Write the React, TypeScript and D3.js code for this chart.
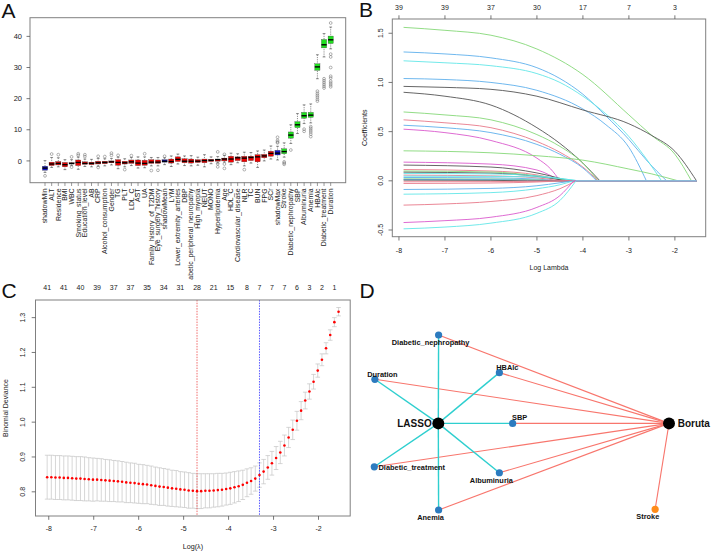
import React from 'react';
import * as d3 from 'd3';

const FONT = 'Liberation Sans, Arial, Helvetica, sans-serif';

// ---------------- Panel A: Boruta importance boxplots ----------------
const borutaNames = ['shadowMin','ALT','Residence','BMI','WBC','Smoking_status','Education_level','AB','CRP','Alcohol_consumption','Gender','TG','PLT','LDL_C','AST','UA','Family_history_of_T2DM','Eye_surgery_history','shadowMean','LYM','Lower_extremity_arteries','DBP','Diabetic_peripheral_neuropathy','High_myopia','NEUT','MONO','Hyperlipidemia','Age','HDL_C','Cardiovascular_disease','NLR','TC','BUN','FPG','SCr','shadowMax','Stroke','Diabetic_nephropathy','SBP','Albuminuria','Anemia','HBAlc','Diabetic_treatment','Duration'];
const borutaDecision = ['S','R','R','R','R','R','R','R','R','R','R','R','R','R','R','R','R','R','S','R','R','R','R','R','R','R','R','R','R','R','R','R','R','R','R','S','C','C','C','C','C','C','C','C'];
const borutaLow = [-3.7,-2.1,-1.9,-2.8,-1.5,-2.7,-1.8,-1.9,-1.7,-1.6,-1.3,-2.5,-1.9,-1.5,-2.3,-2.2,-1.6,-1.6,-1.2,-1.8,-1.0,-1.5,-1.6,-1.4,-1.9,-0.9,-0.7,-0.4,-1.2,-0.6,-1.6,-0.7,-2.1,0.0,0.6,0.3,1.2,5.6,8.8,12.0,12.2,26.4,33.4,36.0];
const borutaQ1 = [-3.0,-1.5,-1.3,-1.9,-1.0,-1.5,-1.1,-1.2,-1.0,-0.9,-0.6,-1.4,-1.0,-0.8,-1.5,-1.4,-0.8,-0.8,-0.4,-0.7,-0.2,-0.6,-0.7,-0.5,-0.6,-0.2,-0.1,0.0,-0.4,0.1,-0.3,0.1,-0.3,1.0,1.5,1.9,2.3,7.3,10.7,13.7,14.0,29.1,36.3,37.7];
const borutaMedian = [-2.3,-1.0,-0.8,-1.2,-0.8,-0.5,-0.8,-0.8,-0.6,-0.5,-0.3,-0.5,-0.6,-0.3,-0.7,-0.8,-0.4,-0.4,-0.1,-0.2,0.5,-0.1,-0.1,-0.1,0.1,0.2,0.4,0.6,0.6,1.0,0.9,1.1,1.3,1.6,2.4,2.5,3.0,8.3,11.6,14.5,14.7,30.2,37.3,38.9];
const borutaQ3 = [-1.7,-0.4,-0.2,-0.5,-0.6,0.3,-0.3,-0.4,-0.1,-0.1,0.0,0.4,-0.1,0.3,0.3,0.2,0.4,0.3,0.4,0.6,1.3,0.7,0.6,0.4,0.6,0.5,0.6,0.9,1.5,1.3,1.5,1.5,2.0,2.1,3.1,3.4,3.9,9.3,12.6,15.6,15.6,31.2,39.0,40.1];
const borutaHigh = [0.1,1.1,1.0,0.4,0.4,1.2,0.6,0.5,0.8,0.7,0.8,1.2,0.7,1.1,1.3,1.3,1.1,1.1,1.0,1.6,2.2,1.6,1.7,1.2,2.0,1.3,1.4,1.8,2.5,2.3,2.8,2.7,3.2,3.5,4.8,4.7,5.8,11.6,15.2,18.0,18.3,34.1,40.9,43.0];
const borutaOutliers = [
  [-4.8],[2.2],[2.0],[],[1.3,-2.0],[1.8,2.3],[1.4,2.0],[],[1.5,-2.1],[1.4],
  [1.8,2.5],[1.8],[-2.8],[1.7],[],[2.3],[-3.1],[-3.0],[1.5],[],
  [],[],[],[],[],[],[2.9,-0.9,-1.9],[2.1,-1.0,-2.4],[],[],
  [-2.8],[],[],[],[],[5.8,6.1,6.6,7.6],[-0.3,-0.7,-1.1],[3.5],[],[9.5,10.2],
  [7.8,8.6,9.3,9.9,10.5,11.0],[19.2,19.8,20.5,21.1,21.7,22.4],[23.4,24.0,24.6,25.2,25.8,26.4],[44.3,23.8,24.4,25.0,25.6,26.6,27.2,30.0,33.4,34.3]
];
const borutaYTicks = [0, 10, 20, 30, 40];

// ---------------- Panel B: LASSO coefficient paths ----------------
const lassoPathColors = [2,3,4,3,0,0,2,1,3,5,2,5,0,1,2,0,4,1,4,3,2,3,0,1,1,3,4,1,5,4];
const lassoPaths: [number, number][][] = [
  [[-7.9,1.56],[-7,1.53],[-6,1.48],[-5,1.34],[-4,1.08],[-3,0.67],[-2.5,0.46],[-2,0.27],[-1.64,0]],
  [[-7.9,1.31],[-7,1.29],[-6,1.25],[-5,1.15],[-4.5,1.04],[-4,0.88],[-3.5,0.66],[-3,0.42],[-2.6,0.2],[-2.18,0]],
  [[-7.9,1.22],[-7,1.2],[-6,1.17],[-5,1.09],[-4.5,1.0],[-4,0.86],[-3.5,0.68],[-3,0.45],[-2.6,0.21],[-2.29,0]],
  [[-7.9,1.04],[-7,1.03],[-6,1.0],[-5,0.92],[-4,0.73],[-3.5,0.57],[-3,0.34],[-2.62,0]],
  [[-7.9,0.96],[-7,0.95],[-6,0.93],[-5,0.86],[-4,0.72],[-3,0.58],[-2.5,0.46],[-2,0.3],[-1.53,0]],
  [[-7.9,0.9],[-7,0.86],[-6,0.77],[-5,0.54],[-4.5,0.38],[-4,0.18],[-3.63,0]],
  [[-7.9,0.7],[-7,0.67],[-6,0.62],[-5,0.47],[-4.5,0.35],[-4,0.18],[-3.67,0]],
  [[-7.9,0.62],[-7,0.59],[-6,0.54],[-5,0.4],[-4.5,0.29],[-4,0.14],[-3.67,0]],
  [[-7.9,0.565],[-7,0.54],[-6,0.49],[-5,0.37],[-4.5,0.27],[-4,0.13],[-3.7,0]],
  [[-7.9,0.525],[-7,0.49],[-6,0.41],[-5,0.23],[-4.7,0.12],[-4.5,0]],
  [[-7.9,0.305],[-6,0.285],[-5,0.255],[-4,0.21],[-3,0.12],[-2.5,0.07],[-1.93,0]],
  [[-7.9,0.19],[-6,0.17],[-5,0.11],[-4.5,0]],
  [[-7.9,0.16],[-6,0.14],[-5,0.08],[-4.3,0]],
  [[-7.9,0.115],[-6,0.1],[-5,0.06],[-4.4,0]],
  [[-7.9,0.1],[-6,0.09],[-5,0.05],[-4.3,0]],
  [[-7.9,0.088],[-6,0.078],[-5,0.045],[-4.35,0]],
  [[-7.9,0.075],[-6,0.07],[-5,0.05],[-4.1,0]],
  [[-7.9,0.058],[-6,0.05],[-5,0.03],[-4.5,0]],
  [[-7.9,0.047],[-6,0.045],[-5,0.04],[-4.1,0]],
  [[-7.9,0.034],[-6,0.03],[-5,0.018],[-4.6,0]],
  [[-7.9,0.02],[-6,0.018],[-5,0.01],[-4.7,0]],
  [[-7.9,0.014],[-6,0.012],[-5,0.006],[-4.8,0]],
  [[-7.9,0.007],[-6,0.005],[-5.2,0]],
  [[-7.9,-0.01],[-6,-0.008],[-5,-0.004],[-4.6,0]],
  [[-7.9,-0.027],[-6,-0.022],[-5,-0.012],[-4.4,0]],
  [[-7.9,-0.088],[-6,-0.077],[-5,-0.05],[-4.5,-0.02],[-4.2,0]],
  [[-7.9,-0.136],[-6,-0.12],[-5,-0.08],[-4.5,-0.04],[-4.2,0]],
  [[-7.9,-0.247],[-7,-0.235],[-6,-0.21],[-5,-0.15],[-4.5,-0.08],[-4.15,0]],
  [[-7.9,-0.424],[-7,-0.405],[-6,-0.37],[-5,-0.27],[-4.5,-0.15],[-4.2,0]],
  [[-7.9,-0.488],[-7,-0.47],[-6,-0.43],[-5,-0.33],[-4.5,-0.2],[-4.15,0]]
];
const lassoLambdaEnd = -1.53;
const lassoXTicks = [-8, -7, -6, -5, -4, -3, -2];
const lassoTopCounts = [39, 39, 37, 30, 17, 7, 3];
const lassoYTicks = [-0.5, 0, 0.5, 1.0, 1.5];
const rPalette = ['#555555', '#E8798A', '#86D878', '#5FB0EC', '#62E6E8', '#DA5ACD'];

// ---------------- Panel C: cross-validation curve ----------------
const cvLogLambda = [-8.036,-7.943,-7.851,-7.758,-7.666,-7.573,-7.480,-7.388,-7.295,-7.203,-7.110,-7.017,-6.925,-6.832,-6.740,-6.647,-6.554,-6.462,-6.369,-6.277,-6.184,-6.091,-5.999,-5.906,-5.814,-5.721,-5.628,-5.536,-5.443,-5.351,-5.258,-5.165,-5.073,-4.980,-4.888,-4.795,-4.702,-4.610,-4.517,-4.425,-4.332,-4.239,-4.147,-4.054,-3.962,-3.869,-3.776,-3.684,-3.591,-3.499,-3.406,-3.313,-3.221,-3.128,-3.036,-2.943,-2.850,-2.758,-2.665,-2.573,-2.480,-2.387,-2.295,-2.202,-2.110,-2.017,-1.924,-1.832,-1.739,-1.647,-1.554];
const cvMean = [0.842,0.842,0.841,0.841,0.840,0.840,0.839,0.838,0.838,0.837,0.836,0.835,0.835,0.834,0.833,0.832,0.831,0.830,0.829,0.827,0.826,0.825,0.823,0.822,0.821,0.819,0.817,0.815,0.814,0.812,0.810,0.809,0.807,0.806,0.804,0.803,0.802,0.802,0.803,0.803,0.804,0.805,0.806,0.808,0.810,0.813,0.816,0.820,0.826,0.831,0.838,0.848,0.858,0.870,0.882,0.897,0.913,0.933,0.956,0.978,1.004,1.033,1.062,1.088,1.116,1.148,1.179,1.212,1.250,1.287,1.317];
const cvSE = [0.063,0.063,0.063,0.063,0.063,0.063,0.063,0.063,0.063,0.063,0.062,0.062,0.061,0.061,0.060,0.060,0.059,0.059,0.058,0.058,0.057,0.057,0.056,0.056,0.055,0.055,0.054,0.054,0.053,0.053,0.052,0.052,0.051,0.051,0.051,0.050,0.050,0.050,0.049,0.049,0.048,0.048,0.047,0.046,0.046,0.045,0.044,0.042,0.040,0.038,0.036,0.035,0.035,0.034,0.034,0.033,0.032,0.030,0.029,0.028,0.027,0.026,0.024,0.022,0.021,0.019,0.017,0.016,0.015,0.013,0.012];
const cvCountLambda = [-8.036,-7.666,-7.295,-6.925,-6.554,-6.184,-5.814,-5.443,-5.073,-4.702,-4.332,-3.962,-3.591,-3.313,-3.036,-2.758,-2.480,-2.202,-1.924,-1.647];
const cvCountLabels = [41,41,40,39,37,37,35,34,31,28,21,15,8,7,7,7,6,3,2,1];
const cvLambdaMin = -4.702;
const cvLambda1se = -3.313;
const cvXTicks = [-8, -7, -6, -5, -4, -3, -2];
const cvYTicks = [0.8, 0.9, 1.0, 1.1, 1.2, 1.3];

// ---------------- Panel D: network of selected features ----------------
const netNodes = ['LASSO','Boruta','Diabetic_nephropathy','HBAlc','Duration','SBP','Diabetic_treatment','Albuminuria','Anemia','Stroke'];
const netNodeX = [21.8, 100, 21.9, 42.5, 0.3, 47.0, 0.1, 42.5, 21.9, 95.3];
const netNodeY = [50.5, 50.5, 0, 21.5, 25.3, 50.5, 75.3, 78.7, 100, 99.6];
const netNodeKind = ['method','method','both','both','both','both','both','both','both','boruta'];
const netEdgesLasso = ['Diabetic_nephropathy','HBAlc','Duration','SBP','Diabetic_treatment','Albuminuria','Anemia'];
const netEdgesBoruta = ['Diabetic_nephropathy','HBAlc','Duration','SBP','Diabetic_treatment','Albuminuria','Anemia','Stroke'];
const netLabelDx = [-6.6, 8.7, -8, 8, 7.5, 7, 37.5, -8, -8, -7.3];
const netLabelDy = [3.7, 3.7, 9.5, -2.7, -2.3, -3, 3.6, 10, 10.3, 10];

export default function App() {
  // ---- A scales
  const ax = d3.scaleLinear().domain([-1.26, 46.26]).range([30, 345.7]);
  const ay = d3.scaleLinear().domain([-7, 46]).range([182.7, 17.7]);
  const boxColor = (d: string) => (d === 'S' ? '#1414c8' : d === 'C' ? '#1fe01f' : '#f00000');
  const bw = 5.2;

  // ---- B scales
  const bx = d3.scaleLinear().domain([-8.145, -1.33]).range([392.3, 705.7]);
  const by = d3.scaleLinear().domain([-0.568, 1.645]).range([236.7, 19]);
  const bLine = d3.line<[number, number]>().x(d => bx(d[0])).y(d => by(d[1])).curve(d3.curveMonotoneX);

  // ---- C scales
  const cx = d3.scaleLinear().domain([-8.295, -1.295]).range([35.5, 350.2]);
  const cy = d3.scaleLinear().domain([0.7306, 1.3506]).range([516, 300]);

  // ---- D scales
  const dx = d3.scaleLinear().domain([0, 100]).range([374, 669]);
  const dy = d3.scaleLinear().domain([0, 100]).range([335, 510]);
  const nodeIdx = (n: string) => netNodes.indexOf(n);

  return (
    <svg width={711} height={552} style={{ position: 'absolute', left: 0, top: 0, background: '#fff' }} fontFamily={FONT}>
      <defs>
        <clipPath id="clipA"><rect x={0} y={0} width={358} height={280} /></clipPath>
      </defs>
      <rect x={0} y={0} width={711} height={552} fill="#fff" />

      {/* ================= Panel A ================= */}
      <g clipPath="url(#clipA)">
        <rect x={30} y={17.7} width={315.7} height={165} fill="none" stroke="#808080" strokeWidth={1} />
        {borutaYTicks.map(t => (
          <g key={'ayt' + t}>
            <line x1={26.5} x2={30} y1={ay(t)} y2={ay(t)} stroke="#555" strokeWidth={0.8} />
            <text x={22} y={ay(t) + 2.6} fontSize={7.5} textAnchor="end" fill="#222">{t}</text>
          </g>
        ))}
        {borutaNames.map((n, i) => {
          const x = ax(i + 1);
          const col = boxColor(borutaDecision[i]);
          return (
            <g key={'box' + i}>
              <line x1={x} x2={x} y1={ay(borutaHigh[i])} y2={ay(borutaQ3[i])} stroke="#444" strokeWidth={0.6} strokeDasharray="1.2,1" />
              <line x1={x} x2={x} y1={ay(borutaLow[i])} y2={ay(borutaQ1[i])} stroke="#444" strokeWidth={0.6} strokeDasharray="1.2,1" />
              <line x1={x - 1.4} x2={x + 1.4} y1={ay(borutaHigh[i])} y2={ay(borutaHigh[i])} stroke="#444" strokeWidth={0.6} />
              <line x1={x - 1.4} x2={x + 1.4} y1={ay(borutaLow[i])} y2={ay(borutaLow[i])} stroke="#444" strokeWidth={0.6} />
              <rect x={x - bw / 2} y={ay(borutaQ3[i])} width={bw} height={Math.max(0.8, ay(borutaQ1[i]) - ay(borutaQ3[i]))} fill={col} stroke="#333" strokeWidth={0.3} />
              <line x1={x - bw / 2} x2={x + bw / 2} y1={ay(borutaMedian[i])} y2={ay(borutaMedian[i])} stroke="#000" strokeWidth={1.4} />
              {borutaOutliers[i].map((o, j) => (
                <circle key={j} cx={x} cy={ay(o)} r={1.4} fill="none" stroke="#666" strokeWidth={0.5} />
              ))}
              <line x1={x} x2={x} y1={182.7} y2={186} stroke="#555" strokeWidth={0.6} />
              <text transform={`translate(${x + 2.3},188.5) rotate(-90)`} fontSize={6.9} textAnchor="end" fill="#222">{n}</text>
            </g>
          );
        })}
      </g>

      {/* ================= Panel B ================= */}
      <g>
        {lassoPaths.map((p, i) => {
          const last = p[p.length - 1];
          const d = (bLine(p) || '') + `L${bx(lassoLambdaEnd)},${by(0)}`;
          return <path key={'lp' + i} d={d} fill="none" stroke={rPalette[lassoPathColors[i]]} strokeWidth={0.9} data-end={last[0]} />;
        })}
        <rect x={392.3} y={19} width={313.4} height={217.7} fill="none" stroke="#808080" strokeWidth={1} />
        {lassoXTicks.map((t, i) => (
          <g key={'bxt' + t}>
            <line x1={bx(t)} x2={bx(t)} y1={236.7} y2={240.5} stroke="#555" strokeWidth={0.8} />
            <text x={bx(t)} y={252.5} fontSize={7} textAnchor="middle" fill="#222">{t}</text>
            <line x1={bx(t)} x2={bx(t)} y1={19} y2={15.3} stroke="#555" strokeWidth={0.8} />
            <text x={bx(t)} y={10} fontSize={7} textAnchor="middle" fill="#222">{lassoTopCounts[i]}</text>
          </g>
        ))}
        {lassoYTicks.map(t => (
          <g key={'byt' + t}>
            <line x1={388.5} x2={392.3} y1={by(t)} y2={by(t)} stroke="#555" strokeWidth={0.8} />
            <text transform={`translate(382.5,${by(t)}) rotate(-90)`} fontSize={7} textAnchor="middle" fill="#222">{t.toFixed(1)}</text>
          </g>
        ))}
        <text x={(392.3 + 705.7) / 2} y={269.5} fontSize={7} textAnchor="middle" fill="#222">Log Lambda</text>
        <text transform={`translate(366.5,${(19 + 236.7) / 2}) rotate(-90)`} fontSize={7} textAnchor="middle" fill="#222">Coefficients</text>
      </g>

      {/* ================= Panel C ================= */}
      <g>
        {cvLogLambda.map((l, i) => {
          const x = cx(l);
          const up = cy(cvMean[i] + cvSE[i]);
          const lo = cy(cvMean[i] - cvSE[i]);
          return (
            <g key={'cv' + i}>
              <line x1={x} x2={x} y1={up} y2={lo} stroke="#c4c4c4" strokeWidth={0.7} />
              <line x1={x - 2.3} x2={x + 2.3} y1={up} y2={up} stroke="#c4c4c4" strokeWidth={0.7} />
              <line x1={x - 2.3} x2={x + 2.3} y1={lo} y2={lo} stroke="#c4c4c4" strokeWidth={0.7} />
            </g>
          );
        })}
        <line x1={cx(cvLambdaMin)} x2={cx(cvLambdaMin)} y1={300} y2={516} stroke="#ee5a5a" strokeWidth={0.9} strokeDasharray="1.5,1.2" />
        <line x1={cx(cvLambda1se)} x2={cx(cvLambda1se)} y1={300} y2={516} stroke="#5a5aff" strokeWidth={1} strokeDasharray="1.5,1.2" />
        {cvLogLambda.map((l, i) => (
          <circle key={'cvp' + i} cx={cx(l)} cy={cy(cvMean[i])} r={1.3} fill="#ff0000" />
        ))}
        <rect x={35.5} y={300} width={314.7} height={216} fill="none" stroke="#808080" strokeWidth={1} />
        {cvXTicks.map(t => (
          <g key={'cxt' + t}>
            <line x1={cx(t)} x2={cx(t)} y1={516} y2={519.8} stroke="#555" strokeWidth={0.8} />
            <text x={cx(t)} y={530.5} fontSize={7} textAnchor="middle" fill="#222">{t}</text>
          </g>
        ))}
        {cvYTicks.map(t => (
          <g key={'cyt' + t}>
            <line x1={31.7} x2={35.5} y1={cy(t)} y2={cy(t)} stroke="#555" strokeWidth={0.8} />
            <text transform={`translate(24.5,${cy(t)}) rotate(-90)`} fontSize={7} textAnchor="middle" fill="#222">{t.toFixed(1)}</text>
          </g>
        ))}
        {cvCountLambda.map((l, i) => (
          <text key={'cct' + i} x={cx(l)} y={289.5} fontSize={7} textAnchor="middle" fill="#222">{cvCountLabels[i]}</text>
        ))}
        <text x={(35.5 + 350.2) / 2} y={549} fontSize={7.2} textAnchor="middle" fill="#222">Log(λ)</text>
        <text transform={`translate(7.5,408) rotate(-90)`} fontSize={7} textAnchor="middle" fill="#222">Binomial Deviance</text>
      </g>

      {/* ================= Panel D ================= */}
      <g>
        {netEdgesBoruta.map(n => {
          const a = nodeIdx('Boruta');
          const b = nodeIdx(n);
          return <line key={'eb' + n} x1={dx(netNodeX[a])} y1={dy(netNodeY[a])} x2={dx(netNodeX[b])} y2={dy(netNodeY[b])} stroke="#F8766D" strokeWidth={1.1} />;
        })}
        {netEdgesLasso.map(n => {
          const a = nodeIdx('LASSO');
          const b = nodeIdx(n);
          return <line key={'el' + n} x1={dx(netNodeX[a])} y1={dy(netNodeY[a])} x2={dx(netNodeX[b])} y2={dy(netNodeY[b])} stroke="#2ECFCF" strokeWidth={1.4} />;
        })}
        {netNodes.map((n, i) => {
          const k = netNodeKind[i];
          const fill = k === 'method' ? '#000' : k === 'boruta' ? '#FF8C1A' : '#2C7BBF';
          const r = k === 'method' ? 6 : 3.6;
          return <circle key={'nd' + n} cx={dx(netNodeX[i])} cy={dy(netNodeY[i])} r={r} fill={fill} />;
        })}
        {netNodes.map((n, i) => {
          const k = netNodeKind[i];
          const isMethod = k === 'method';
          const anchor = n === 'LASSO' ? 'end' : n === 'Boruta' ? 'start' : 'middle';
          return (
            <text key={'nl' + n} x={dx(netNodeX[i]) + netLabelDx[i]} y={dy(netNodeY[i]) + netLabelDy[i]} fontSize={isMethod ? 10 : 7.4} fontWeight="bold" textAnchor={anchor} fill="#111">{n}</text>
          );
        })}
      </g>

      {/* panel letters */}
      <text x={1.5} y={18} fontSize={21} fill="#111">A</text>
      <text x={359} y={17} fontSize={21} fill="#111">B</text>
      <text x={1.5} y={297.5} fontSize={21} fill="#111">C</text>
      <text x={359.5} y={298.3} fontSize={21} fill="#111">D</text>
    </svg>
  );
}
